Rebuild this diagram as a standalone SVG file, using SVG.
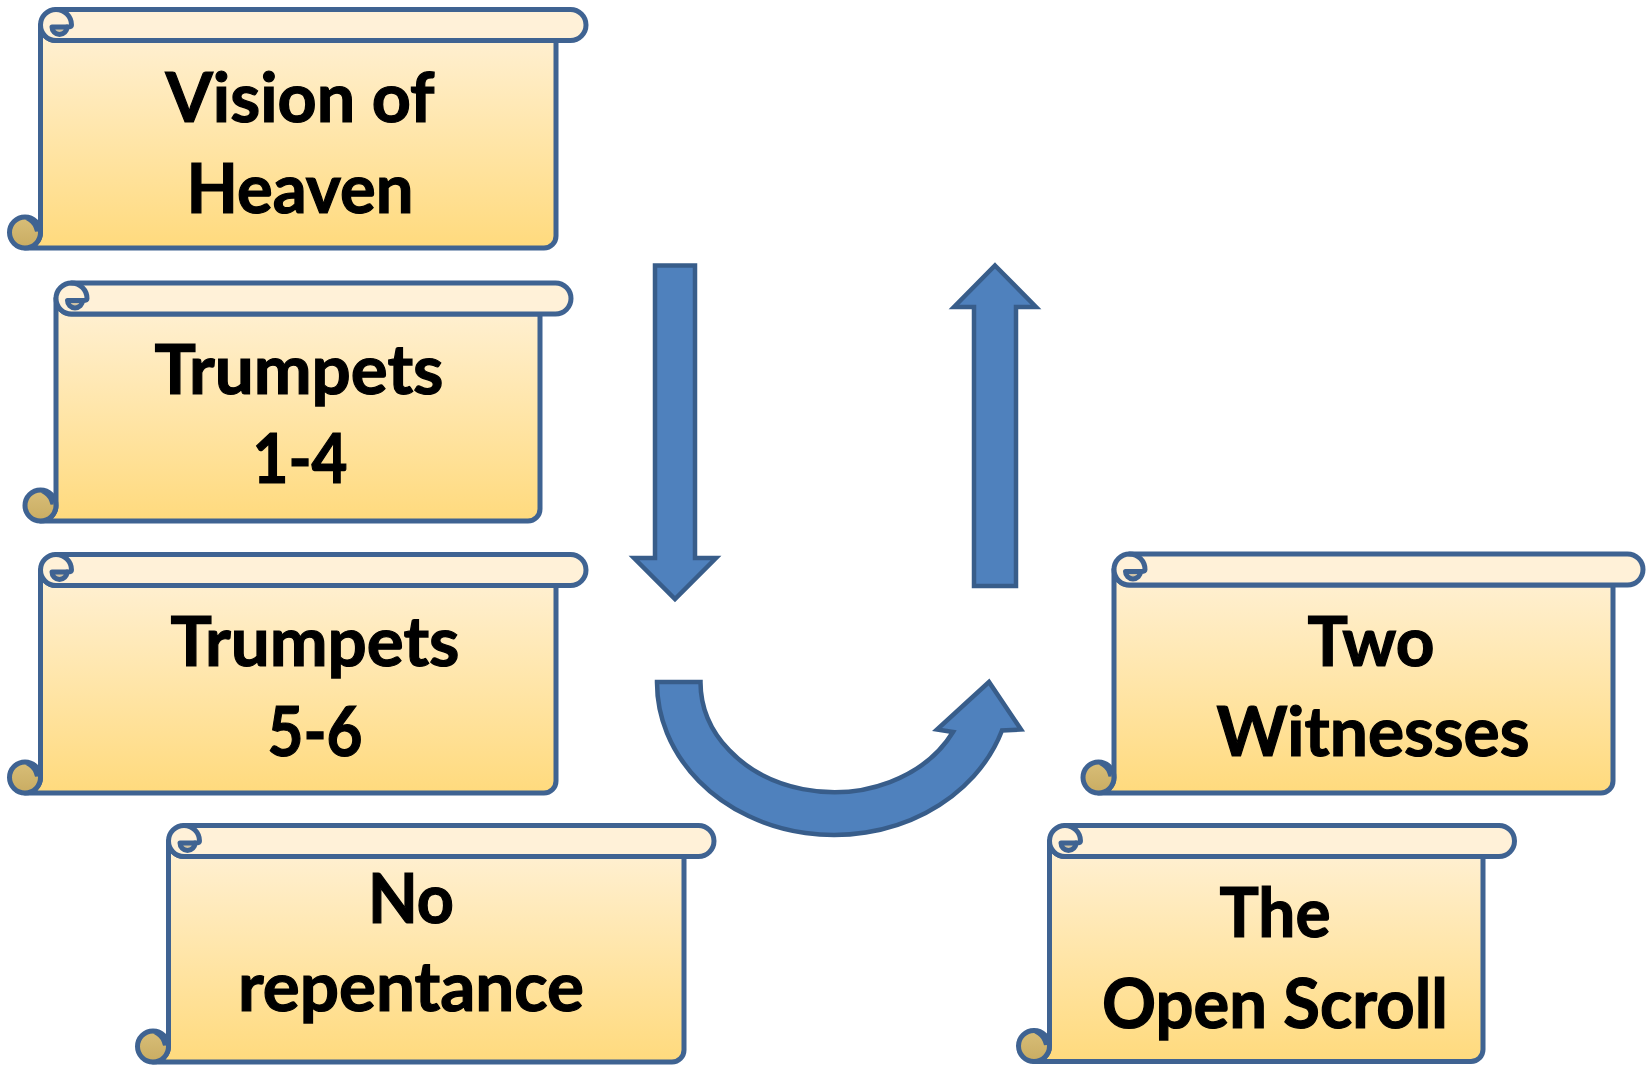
<svg xmlns="http://www.w3.org/2000/svg" width="1647" height="1066" viewBox="0 0 1647 1066">
<defs>
<linearGradient id="bodyG" x1="0" y1="0" x2="0" y2="1">
<stop offset="0" stop-color="#FFF1D6"/>
<stop offset="1" stop-color="#FFDA7D"/>
</linearGradient>
<linearGradient id="curlG" x1="0" y1="0" x2="0" y2="1">
<stop offset="0" stop-color="#D8BE78"/>
<stop offset="1" stop-color="#C9AC62"/>
</linearGradient>
<style>
.bd{fill:url(#bodyG);stroke:#3F6392;stroke-width:5;stroke-linejoin:round}
.bar{fill:#FFF1D8;stroke:#3F6392;stroke-width:5;stroke-linejoin:round}
.ln{fill:none;stroke:#3F6392;stroke-width:5;stroke-linecap:round}
.gr{fill:#CFC2A4;stroke:#3F6392;stroke-width:5;stroke-linejoin:round}
.cu{fill:url(#curlG);stroke:#3F6392;stroke-width:5}
.tk{fill:#FFF1D8;stroke:#3F6392;stroke-width:3;stroke-linecap:round}
.ar{fill:#4F81BD;stroke:#385D8A;stroke-width:4.5;stroke-linejoin:miter;stroke-miterlimit:10}
text{font-family:Lato,"Open Sans","Liberation Sans",sans-serif;font-weight:700;font-size:68px;fill:#000;stroke:#000;stroke-width:1.2;text-anchor:middle}
</style>
</defs>

<g id="connectors">
<polygon class="ar" points="655,265.5 695,265.5 695,558 716,558 675,599 634,558 655,558"/>
<polygon class="ar" points="995,265.5 1036,307 1016,307 1016,586 974,586 974,307 954,307"/>
<path class="ar" d="M657,682 L700.5,682 A133.5 110 0 0 0 953,732 L937,729.5 L989,682 L1021,729.5 L1002,730.5 A177 152.5 0 0 1 657,682 Z"/>
</g>

<g id="node-vision">
<g transform="translate(40.5,9.5)">
<path class="bd" d="M0,15.5 L0,223 A15.5 15.5 0 0 1 -15.5,238.5 L503.5,238.5 A12 12 0 0 0 515.5,226.5 L515.5,31 L15.5,31 A15.5 15.5 0 0 1 0,15.5 Z"/>
<path class="bar" d="M15.5,0 L530,0 A15.5 15.5 0 0 1 530,31 L15.5,31 A15.5 15.5 0 0 1 15.5,0 Z"/>
<path class="ln" d="M15.5,0 A15.5 15.5 0 0 1 31,15.5 Q31,17.5 26.5,17.5"/>
<path class="gr" d="M11.5,17.5 L26.5,17.5 A7.5 7.5 0 0 1 11.5,17.5 Z"/>
<circle class="cu" cx="-15.5" cy="223" r="15.5"/>
<path class="tk" d="M-11,211 Q-4,210 -4,217 L-4,222 Q-6,214 -11,211 Z"/>
</g>
<text x="300" y="122" textLength="269" lengthAdjust="spacingAndGlyphs">Vision of</text>
<text x="300" y="213" textLength="227" lengthAdjust="spacingAndGlyphs">Heaven</text>
</g>

<g id="node-trumpets14">
<g transform="translate(56,283)">
<path class="bd" d="M0,15.5 L0,222.5 A15.5 15.5 0 0 1 -15.5,238 L472,238 A12 12 0 0 0 484,226 L484,31 L15.5,31 A15.5 15.5 0 0 1 0,15.5 Z"/>
<path class="bar" d="M15.5,0 L499.5,0 A15.5 15.5 0 0 1 499.5,31 L15.5,31 A15.5 15.5 0 0 1 15.5,0 Z"/>
<path class="ln" d="M15.5,0 A15.5 15.5 0 0 1 31,15.5 Q31,17.5 26.5,17.5"/>
<path class="gr" d="M11.5,17.5 L26.5,17.5 A7.5 7.5 0 0 1 11.5,17.5 Z"/>
<circle class="cu" cx="-15.5" cy="222.5" r="15.5"/>
<path class="tk" d="M-11,210.5 Q-4,209.5 -4,216.5 L-4,221.5 Q-6,213.5 -11,210.5 Z"/>
</g>
<text x="299" y="394" textLength="289" lengthAdjust="spacingAndGlyphs">Trumpets</text>
<text x="300" y="483" textLength="95" lengthAdjust="spacingAndGlyphs">1-4</text>
</g>

<g id="node-trumpets56">
<g transform="translate(40.5,554.5)">
<path class="bd" d="M0,15.5 L0,223 A15.5 15.5 0 0 1 -15.5,238.5 L503.5,238.5 A12 12 0 0 0 515.5,226.5 L515.5,31 L15.5,31 A15.5 15.5 0 0 1 0,15.5 Z"/>
<path class="bar" d="M15.5,0 L530,0 A15.5 15.5 0 0 1 530,31 L15.5,31 A15.5 15.5 0 0 1 15.5,0 Z"/>
<path class="ln" d="M15.5,0 A15.5 15.5 0 0 1 31,15.5 Q31,17.5 26.5,17.5"/>
<path class="gr" d="M11.5,17.5 L26.5,17.5 A7.5 7.5 0 0 1 11.5,17.5 Z"/>
<circle class="cu" cx="-15.5" cy="223" r="15.5"/>
<path class="tk" d="M-11,211 Q-4,210 -4,217 L-4,222 Q-6,214 -11,211 Z"/>
</g>
<text x="315" y="666" textLength="289" lengthAdjust="spacingAndGlyphs">Trumpets</text>
<text x="315" y="756" textLength="95" lengthAdjust="spacingAndGlyphs">5-6</text>
</g>

<g id="node-norepentance">
<g transform="translate(168.5,825.5)">
<path class="bd" d="M0,15.5 L0,221 A15.5 15.5 0 0 1 -15.5,236.5 L503.5,236.5 A12 12 0 0 0 515.5,224.5 L515.5,31 L15.5,31 A15.5 15.5 0 0 1 0,15.5 Z"/>
<path class="bar" d="M15.5,0 L530,0 A15.5 15.5 0 0 1 530,31 L15.5,31 A15.5 15.5 0 0 1 15.5,0 Z"/>
<path class="ln" d="M15.5,0 A15.5 15.5 0 0 1 31,15.5 Q31,17.5 26.5,17.5"/>
<path class="gr" d="M11.5,17.5 L26.5,17.5 A7.5 7.5 0 0 1 11.5,17.5 Z"/>
<circle class="cu" cx="-15.5" cy="221" r="15.5"/>
<path class="tk" d="M-11,209 Q-4,208 -4,215 L-4,220 Q-6,212 -11,209 Z"/>
</g>
<text x="411" y="923" textLength="86" lengthAdjust="spacingAndGlyphs">No</text>
<text x="411" y="1011" textLength="346" lengthAdjust="spacingAndGlyphs">repentance</text>
</g>

<g id="node-twowitnesses">
<g transform="translate(1114,554)">
<path class="bd" d="M0,15.5 L0,223.5 A15.5 15.5 0 0 1 -15.5,239 L487,239 A12 12 0 0 0 499,227 L499,31 L15.5,31 A15.5 15.5 0 0 1 0,15.5 Z"/>
<path class="bar" d="M15.5,0 L513.5,0 A15.5 15.5 0 0 1 513.5,31 L15.5,31 A15.5 15.5 0 0 1 15.5,0 Z"/>
<path class="ln" d="M15.5,0 A15.5 15.5 0 0 1 31,15.5 Q31,17.5 26.5,17.5"/>
<path class="gr" d="M11.5,17.5 L26.5,17.5 A7.5 7.5 0 0 1 11.5,17.5 Z"/>
<circle class="cu" cx="-15.5" cy="223.5" r="15.5"/>
<path class="tk" d="M-11,211.5 Q-4,210.5 -4,217.5 L-4,222.5 Q-6,214.5 -11,211.5 Z"/>
</g>
<text x="1371" y="666" textLength="127" lengthAdjust="spacingAndGlyphs">Two</text>
<text x="1373" y="756" textLength="313" lengthAdjust="spacingAndGlyphs">Witnesses</text>
</g>

<g id="node-openscroll">
<g transform="translate(1049.5,825.5)">
<path class="bd" d="M0,15.5 L0,220.5 A15.5 15.5 0 0 1 -15.5,236 L421.5,236 A12 12 0 0 0 433.5,224 L433.5,31 L15.5,31 A15.5 15.5 0 0 1 0,15.5 Z"/>
<path class="bar" d="M15.5,0 L449.5,0 A15.5 15.5 0 0 1 449.5,31 L15.5,31 A15.5 15.5 0 0 1 15.5,0 Z"/>
<path class="ln" d="M15.5,0 A15.5 15.5 0 0 1 31,15.5 Q31,17.5 26.5,17.5"/>
<path class="gr" d="M11.5,17.5 L26.5,17.5 A7.5 7.5 0 0 1 11.5,17.5 Z"/>
<circle class="cu" cx="-15.5" cy="220.5" r="15.5"/>
<path class="tk" d="M-11,208.5 Q-4,207.5 -4,214.5 L-4,219.5 Q-6,211.5 -11,208.5 Z"/>
</g>
<text x="1275" y="937" textLength="111" lengthAdjust="spacingAndGlyphs">The</text>
<text x="1275" y="1028" textLength="346" lengthAdjust="spacingAndGlyphs">Open Scroll</text>
</g>
</svg>
